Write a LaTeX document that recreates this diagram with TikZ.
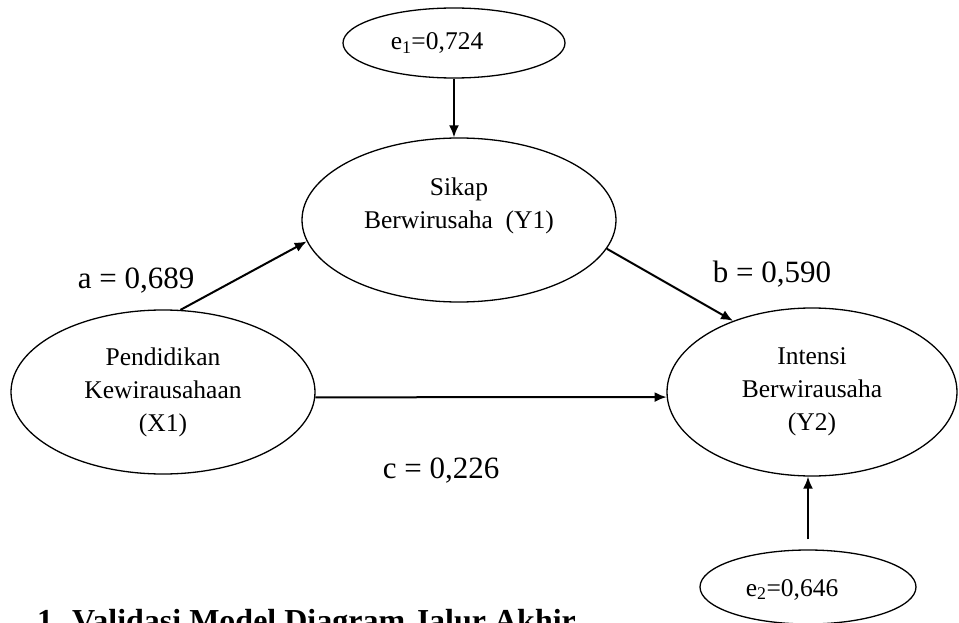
\documentclass[tikz,border=0pt]{standalone}
\usepackage{fontspec}
\setmainfont{Liberation Serif}
\usetikzlibrary{shapes.geometric,arrows.meta}
\begin{document}
\begin{tikzpicture}[x=1pt,y=-1pt,
  latent/.style={draw, ellipse, line width=1.3pt, inner sep=0pt, align=center,
    font=\fontsize{25.5}{33}\selectfont},
  errnode/.style={draw, ellipse, line width=1.3pt, inner sep=0pt},
  errtext/.style={font=\fontsize{25.5}{30}\selectfont, inner sep=0pt, anchor=base},
  coef/.style={font=\fontsize{31}{36}\selectfont, inner sep=0pt, anchor=base},
  arr/.style={-{Latex[length=12pt,width=10pt]}, line width=2pt}]
\useasboundingbox (0,0) rectangle (959,623);
\clip (0,0) rectangle (959,623);

% latent variables
\node[latent, minimum width=314pt, minimum height=164pt] (Y1) at (459,220)
  {Sikap\\Berwirusaha\ \ (Y1)\\\mbox{}};
\node[latent, minimum width=304pt, minimum height=164pt] (X1) at (163,392)
  {Pendidikan\\Kewirausahaan\\(X1)};
\node[latent, minimum width=290pt, minimum height=168pt] (Y2) at (812,392)
  {Intensi\\Berwirausaha\\(Y2)};

% error terms
\node[errnode, minimum width=222pt, minimum height=70pt] (e1) at (454,43) {};
\node[errtext] (e1t) at (437,50) {e\textsubscript{1}=0,724};
\node[errnode, minimum width=216pt, minimum height=74pt] (e2) at (808,587) {};
\node[errtext] (e2t) at (792,596) {e\textsubscript{2}=0,646};

% coefficients
\node[coef] (la) at (136,288) {a = 0,689};
\node[coef] (lb) at (772,282) {b = 0,590};
\node[coef] (lc) at (441,478) {c = 0,226};

% paths
\draw[arr] (X1.78.7) -- (Y1.188.5);
\draw[arr] (Y1.-11.4) -- (Y2.138.6);
\draw[arr] (X1.-2) -- (Y2.182);
\draw[arr] (e1.south) -- (e1.south |- Y1.north);
\draw[arr, shorten <=10pt] (e2.north) -- (e2.north |- Y2.south);

% caption (cut by the page edge)
\node[font=\bfseries\fontsize{32}{36}\selectfont, inner sep=0pt, anchor=base west] (cap)
  at (37,631) {1.\hspace{11pt}Validasi Model Diagram Jalur Akhir};
\end{tikzpicture}
\end{document}
